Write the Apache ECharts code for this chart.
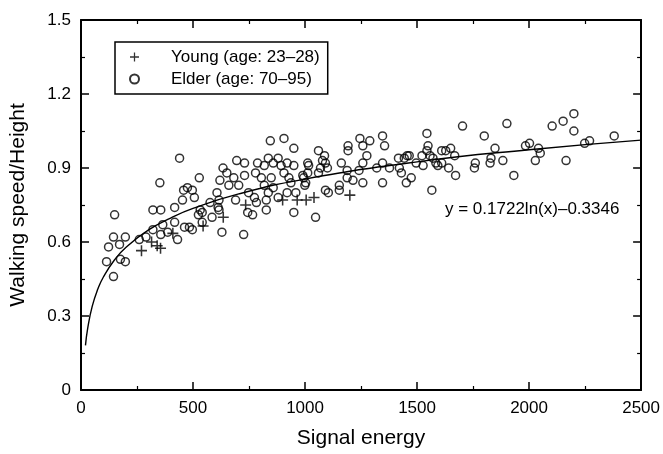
<!DOCTYPE html>
<html>
<head>
<meta charset="utf-8">
<script src="https://cdn.jsdelivr.net/npm/echarts@6/dist/echarts.min.js"></script>
<style>
  html, body { margin: 0; padding: 0; background: #fff; }
  #chart { width: 663px; height: 454px; }
</style>
</head>
<body>
<div id="chart"></div>
<script>
// young subjects (+)
const youngPoints = [
  [270, 0.565], [315, 0.60], [340, 0.585], [355, 0.575], [410, 0.635],
  [545, 0.665], [635, 0.70], [735, 0.75], [900, 0.77], [965, 0.77],
  [1005, 0.77], [1040, 0.78], [1200, 0.79]
];

// elder subjects (o)
const elderPoints = [
  [114, 0.52], [145, 0.46], [123, 0.58], [145, 0.62], [172, 0.59], [198, 0.62], [176, 0.53], [198, 0.52],
  [150, 0.71], [260, 0.61], [290, 0.62], [321, 0.65], [356, 0.63], [365, 0.67], [321, 0.73], [356, 0.73],
  [352, 0.84], [418, 0.74], [431, 0.61], [440, 0.94], [462, 0.66], [484, 0.66], [497, 0.65], [458, 0.81],
  [497, 0.81], [528, 0.86], [524, 0.71], [532, 0.73], [576, 0.76], [585, 0.70], [616, 0.73], [629, 0.64],
  [726, 0.63], [453, 0.77], [475, 0.82], [506, 0.78], [418, 0.68], [387, 0.64], [541, 0.72], [541, 0.68],
  [845, 1.01], [906, 1.02], [950, 0.98], [695, 0.93], [730, 0.92], [788, 0.92], [836, 0.94], [880, 0.94],
  [920, 0.92], [950, 0.91], [1012, 0.92], [634, 0.90], [651, 0.88], [682, 0.86], [620, 0.85], [660, 0.83],
  [704, 0.83], [730, 0.87], [779, 0.88], [818, 0.91], [858, 0.92], [893, 0.91], [805, 0.86], [849, 0.86],
  [818, 0.83], [858, 0.82], [906, 0.88], [928, 0.86], [937, 0.84], [990, 0.87], [999, 0.83], [607, 0.80],
  [616, 0.77], [690, 0.77], [748, 0.80], [774, 0.78], [783, 0.76], [827, 0.77], [836, 0.80], [880, 0.78],
  [920, 0.80], [959, 0.80], [612, 0.74], [744, 0.72], [766, 0.71], [827, 0.73], [950, 0.72],
  [1346, 1.03], [1245, 1.02], [1289, 1.01], [1258, 0.99], [1192, 0.99], [1192, 0.97], [1355, 0.99], [1060, 0.97],
  [1087, 0.95], [1078, 0.93], [1091, 0.92], [1100, 0.90], [1276, 0.95], [1016, 0.91], [1012, 0.88], [994, 0.86],
  [1003, 0.84], [1069, 0.90], [1060, 0.88], [1162, 0.92], [1258, 0.92], [1188, 0.89], [1188, 0.86], [1214, 0.85],
  [1241, 0.89], [1258, 0.84], [1320, 0.90], [1346, 0.92], [1377, 0.90], [1417, 0.94], [1421, 0.90], [1430, 0.88],
  [1456, 0.95], [1452, 0.84], [1346, 0.84], [1091, 0.81], [1104, 0.80], [1153, 0.83], [1153, 0.81], [1047, 0.70],
  [1901, 1.08], [1703, 1.07], [1800, 1.03], [1544, 1.04], [1549, 0.99], [1544, 0.97], [1558, 0.95], [1610, 0.97],
  [1628, 0.97], [1650, 0.98], [1668, 0.95], [1443, 0.94], [1465, 0.95], [1496, 0.92], [1522, 0.95], [1527, 0.91],
  [1571, 0.94], [1584, 0.92], [1610, 0.92], [1593, 0.91], [1641, 0.90], [1474, 0.86], [1760, 0.92], [1756, 0.90],
  [1826, 0.92], [1830, 0.94], [1883, 0.93], [1848, 0.98], [1672, 0.87], [1566, 0.81], [1932, 0.87],
  [2103, 1.07], [2152, 1.09], [2200, 1.12], [2200, 1.05], [2380, 1.03], [1984, 0.99], [2002, 1.00], [2042, 0.98],
  [2050, 0.96], [2028, 0.93], [2248, 1.00], [2270, 1.01], [2165, 0.93]
];

// fitted curve y = 0.1722 ln(x) - 0.3346
const fitX = [20, 30, 50, 75, 100, 150, 200, 300, 400, 500, 700, 1000, 1500, 2000, 2500];
const fitY = [0.181, 0.251, 0.339, 0.409, 0.458, 0.528, 0.578, 0.648, 0.697, 0.736, 0.794, 0.855, 0.925, 0.974, 1.013];

const fontFamily = '"Liberation Sans", Arial, sans-serif';

const chart = echarts.init(document.getElementById('chart'));

const crossPath = 'path://M0,4.3H4.3V0H5.7V4.3H10V5.7H5.7V10H4.3V5.7H0Z';

const axisCommon = {
  axisLine: { show: true, onZero: false, lineStyle: { color: '#000', width: 2 } },
  axisTick: { show: true, inside: true, length: 8, lineStyle: { color: '#000', width: 1.5 } },
  minorTick: { show: true, splitNumber: 2, length: 4, lineStyle: { color: '#000', width: 1.2 } },
  splitLine: { show: false }
};

const option = {
  backgroundColor: '#fff',
  animation: false,
  grid: { left: 77, right: 18, top: 20, bottom: 57 },
  legend: {
    orient: 'vertical',
    left: 115,
    top: 42,
    padding: [6, 8, 6, 14],
    itemGap: 4,
    itemWidth: 9,
    itemHeight: 9,
    borderColor: '#000',
    borderWidth: 1.5,
    data: ['Young (age: 23–28)', 'Elder (age: 70–95)'],
    textStyle: {
      fontFamily: fontFamily,
      fontSize: 17,
      color: '#000',
      lineHeight: 18,
      padding: [0, 0, 0, 27]
    }
  },
  xAxis: [
    Object.assign({
      type: 'value',
      min: 0,
      max: 2500,
      interval: 500,
      name: 'Signal energy',
      nameLocation: 'middle',
      nameGap: 38,
      nameTextStyle: { fontFamily: fontFamily, fontSize: 21, color: '#000' },
      axisLabel: {
        fontFamily: fontFamily, fontSize: 17, color: '#000', margin: 10,
        formatter: function (v) { return String(v); }
      }
    }, axisCommon),
    Object.assign({
      type: 'value',
      position: 'top',
      min: 0,
      max: 2500,
      interval: 500,
      axisLabel: { show: false }
    }, axisCommon)
  ],
  yAxis: [
    Object.assign({
      type: 'value',
      min: 0,
      max: 1.5,
      interval: 0.3,
      name: 'Walking speed/Height',
      nameLocation: 'middle',
      nameGap: 52,
      nameTextStyle: { fontFamily: fontFamily, fontSize: 21, color: '#000' },
      axisLabel: {
        fontFamily: fontFamily, fontSize: 17, color: '#000', margin: 10,
        formatter: function (v) { return v === 0 ? '0' : v.toFixed(1); }
      }
    }, axisCommon),
    Object.assign({
      type: 'value',
      position: 'right',
      min: 0,
      max: 1.5,
      interval: 0.3,
      axisLabel: { show: false }
    }, axisCommon)
  ],
  graphic: [{
    type: 'text',
    left: 445,
    top: 201,
    style: {
      text: 'y = 0.1722ln(x)–0.3346',
      fontFamily: fontFamily,
      fontSize: 17,
      fill: '#000'
    }
  }],
  series: [
    {
      name: 'Young (age: 23–28)',
      type: 'scatter',
      symbol: crossPath,
      symbolSize: 11,
      itemStyle: { color: '#000' },
      data: youngPoints,
      z: 3
    },
    {
      name: 'Elder (age: 70–95)',
      type: 'scatter',
      symbol: 'circle',
      symbolSize: 8,
      itemStyle: { color: 'rgba(255,255,255,0)', borderColor: '#000', borderWidth: 1.5 },
      data: elderPoints,
      z: 2
    },
    {
      name: 'fit',
      type: 'line',
      smooth: true,
      showSymbol: false,
      lineStyle: { color: '#000', width: 1.4 },
      data: fitX.map(function (x, i) { return [x, fitY[i]]; }),
      z: 1
    }
  ]
};

chart.setOption(option);
</script>
</body>
</html>
